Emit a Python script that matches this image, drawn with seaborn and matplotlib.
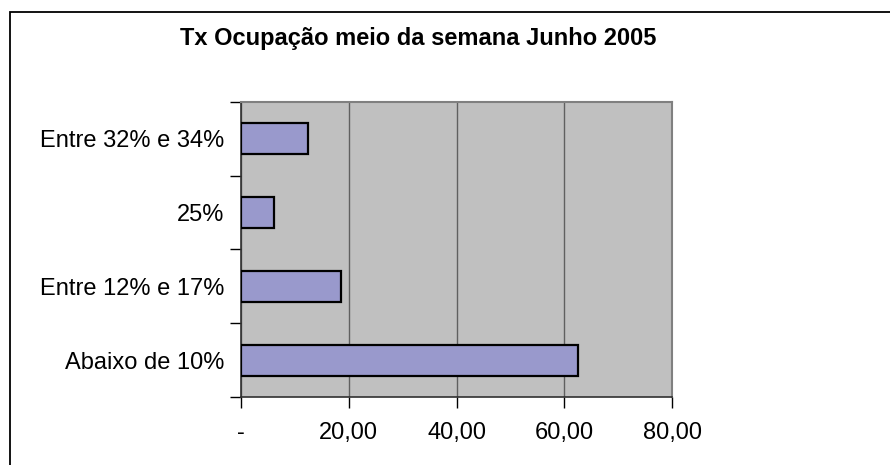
import matplotlib
matplotlib.use("Agg")
import matplotlib.pyplot as plt
import seaborn as sns
import pandas as pd

# data
categorias = ["Entre 32% e 34%", "25%", "Entre 12% e 17%", "Abaixo de 10%"]
valores = [12.4, 6.2, 18.6, 62.5]
x_ticks = [0, 20, 40, 60, 80]
x_labels = ["-", "20,00", "40,00", "60,00", "80,00"]

df = pd.DataFrame({"faixa": categorias, "valor": valores})

sns.set_style("white")
plt.rcParams["font.family"] = ["Liberation Sans", "DejaVu Sans"]
plt.rcParams["text.color"] = "black"
plt.rcParams["xtick.color"] = "black"
plt.rcParams["ytick.color"] = "black"

fig = plt.figure(figsize=(8.9, 4.65), dpi=100)
ax = fig.add_axes([241 / 890, 1 - 397 / 465, (672 - 241) / 890, (397 - 102) / 465])
ax.set_facecolor("#C0C0C0")

# outer chart border (open to the right / bottom like the crop)
fig.patches.append(plt.Rectangle((10 / 890, -0.5), 2, 1.5 - 12 / 465,
                                 transform=fig.transFigure, fill=False,
                                 edgecolor="black", linewidth=1.3, zorder=0))

sns.barplot(data=df, x="valor", y="faixa", orient="h", color="#9999CC",
            edgecolor="black", linewidth=1.6, width=0.42, saturation=1,
            ax=ax, zorder=3)

ax.set_xlim(0, 80)
ax.set_ylim(len(categorias) - 0.5, -0.5)
ax.set_xticks(x_ticks)
ax.set_xticklabels(x_labels, fontsize=17)
ax.set_yticks([i - 0.5 for i in range(len(categorias) + 1)])
ax.set_yticklabels([])
ax.set_yticks(range(len(categorias)), minor=True)
ax.set_yticklabels(categorias, minor=True, fontsize=17)
ax.tick_params(axis="y", which="major", length=8, width=1, color="black", direction="out", left=True)
ax.tick_params(axis="y", which="minor", length=0, pad=12)
ax.tick_params(axis="x", length=8, width=1, color="black", direction="out", bottom=True, pad=10)

ax.xaxis.grid(True, color="#606060", linewidth=1)
ax.yaxis.grid(False)
ax.set_axisbelow(True)
ax.set_xlabel("")
ax.set_ylabel("")

for s in ["left", "bottom"]:
    ax.spines[s].set_color("#303030")
    ax.spines[s].set_linewidth(1.2)
for s in ["top", "right"]:
    ax.spines[s].set_color("#808080")
    ax.spines[s].set_linewidth(1.5)

fig.text(418 / 890, 1 - 38 / 465, "Tx Ocupação meio da semana Junho 2005",
         ha="center", va="center", fontsize=17, fontweight="bold")

fig.savefig("out.png", dpi=100)
